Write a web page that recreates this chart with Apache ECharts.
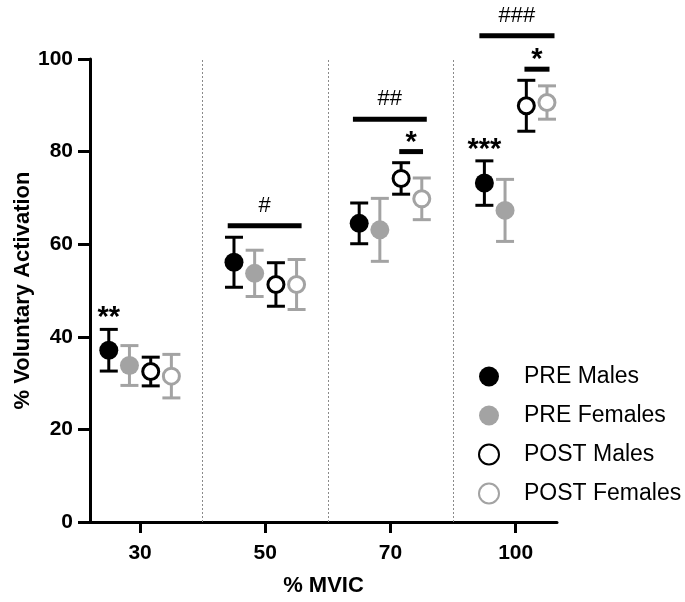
<!DOCTYPE html>
<html>
<head>
<meta charset="utf-8">
<script src="https://cdn.jsdelivr.net/npm/echarts@6/dist/echarts.min.js"></script>
<style>
html,body{margin:0;padding:0;background:#fff;}
#chart{width:685px;height:602px;}
</style>
</head>
<body>
<div id="chart"></div>
<script>
// ---- data ----
const categories = ['30', '50', '70', '100'];
const seriesNames = ['PRE Males', 'PRE Females', 'POST Males', 'POST Females'];
const preMalesMean = [37.1, 56.1, 64.5, 73.2];
const preMalesSD = [4.5, 5.4, 4.4, 4.8];
const preFemalesMean = [33.8, 53.7, 63.1, 67.3];
const preFemalesSD = [4.3, 5.0, 6.8, 6.7];
const postMalesMean = [32.5, 51.3, 74.2, 89.9];
const postMalesSD = [3.1, 4.7, 3.4, 5.5];
const postFemalesMean = [31.5, 51.3, 69.8, 90.6];
const postFemalesSD = [4.7, 5.4, 4.5, 3.6];
const yTicks = [0, 20, 40, 60, 80, 100];
// significance annotations
const starLabels = ['**', '***'];
const starGroups = [0, 3];
const sigLabels = ['#', '##', '*', '###', '*'];
const sigGroups = [1, 2, 2, 3, 3];
const sigFrom = [-0.30, -0.30, 0.07, -0.29, 0.07];
const sigTo = [0.29, 0.29, 0.26, 0.31, 0.27];
const sigBarY = [64.0, 87.0, 80.0, 105.0, 97.8];

// ---- styling ----
const offsets = [-0.25, -0.085, 0.085, 0.25];
const gray = '#a3a3a3';
const colors = ['#000000', gray, '#000000', gray];
const filled = [true, true, false, false];
const means = [preMalesMean, preFemalesMean, postMalesMean, postFemalesMean];
const sds = [preMalesSD, preFemalesSD, postMalesSD, postFemalesSD];
const FONT = '"Liberation Sans", Arial, Helvetica, sans-serif';

const chart = echarts.init(document.getElementById('chart'), null, {renderer: 'canvas'});

function errorRender(color) {
  return function (params, api) {
    const x = api.value(0), m = api.value(1), sd = api.value(2);
    const t = api.coord([x, m + sd]);
    const b = api.coord([x, m - sd]);
    const cw = 9;
    const st = {stroke: color, lineWidth: 3};
    return {type: 'group', children: [
      {type: 'line', shape: {x1: t[0], y1: t[1], x2: b[0], y2: b[1]}, style: st},
      {type: 'line', shape: {x1: t[0] - cw, y1: t[1], x2: t[0] + cw, y2: t[1]}, style: st},
      {type: 'line', shape: {x1: b[0] - cw, y1: b[1], x2: b[0] + cw, y2: b[1]}, style: st}
    ]};
  };
}

const series = [];
// dividers
series.push({
  type: 'scatter', data: [], silent: true,
  markLine: {
    silent: true, symbol: 'none', label: {show: false},
    lineStyle: {type: [2, 2], color: '#8a8a8a', width: 1},
    data: [{xAxis: 0.5}, {xAxis: 1.5}, {xAxis: 2.5}]
  }
});
for (let s = 0; s < 4; s++) {
  const errData = [], ptData = [];
  for (let g = 0; g < categories.length; g++) {
    errData.push([g + offsets[s], means[s][g], sds[s][g]]);
    ptData.push([g + offsets[s], means[s][g]]);
  }
  series.push({
    type: 'custom', renderItem: errorRender(colors[s]), data: errData,
    clip: false, silent: true, z: 2 + s * 2
  });
  series.push({
    name: seriesNames[s], type: 'scatter', data: ptData, symbol: 'circle',
    symbolSize: filled[s] ? 19 : 16, z: 3 + s * 2,
    itemStyle: filled[s] ? {color: colors[s], opacity: 1} :
      {color: '#ffffff', borderColor: colors[s], borderWidth: 3, opacity: 1},
    emphasis: {disabled: true}
  });
}
// significance bars
const sigData = sigLabels.map((l, i) => [sigGroups[i] + sigFrom[i], sigGroups[i] + sigTo[i], sigBarY[i], l]);
series.push({
  type: 'custom', clip: false, silent: true, z: 20,
  data: sigData,
  renderItem: function (params, api) {
    const a = api.coord([api.value(0), api.value(2)]);
    const b = api.coord([api.value(1), api.value(2)]);
    const label = sigLabels[params.dataIndex];
    const isStar = label.indexOf('*') >= 0;
    return {type: 'group', children: [
      {type: 'line', shape: {x1: a[0], y1: a[1], x2: b[0], y2: b[1]}, style: {stroke: '#000', lineWidth: 5}},
      {type: 'text', x: (a[0] + b[0]) / 2, y: a[1] - (isStar ? 9 : 20),
        style: {text: label, fill: '#000', align: 'center', verticalAlign: 'middle',
          font: (isStar ? 'bold 29px ' : '22px ') + FONT}}
    ]};
  }
});
// stars above PRE Males
const starData = starLabels.map((l, i) => [starGroups[i] + offsets[0], preMalesMean[starGroups[i]] + preMalesSD[starGroups[i]], l]);
series.push({
  type: 'custom', clip: false, silent: true, z: 20,
  data: starData,
  renderItem: function (params, api) {
    const p = api.coord([api.value(0), api.value(1)]);
    return {type: 'text', x: p[0], y: p[1] - 11,
      style: {text: starLabels[params.dataIndex], fill: '#000', align: 'center', verticalAlign: 'middle',
        font: 'bold 29px ' + FONT}};
  }
});

const option = {
  backgroundColor: '#ffffff',
  animation: false,
  textStyle: {fontFamily: FONT},
  grid: {left: 90, right: 128, top: 59, bottom: 80, containLabel: false},
  legend: {
    data: seriesNames.map(n => ({name: n, icon: 'circle'})),
    orient: 'vertical', left: 473, top: 360,
    itemWidth: 20, itemHeight: 20, itemGap: 16,
    textStyle: {fontSize: 23, fontFamily: FONT, color: '#000', padding: [0, 0, 0, 20], lineHeight: 22},
    selectedMode: false
  },
  xAxis: {
    type: 'value', min: -0.4, max: 3.33,
    name: '% MVIC', nameLocation: 'middle', nameGap: 53,
    nameTextStyle: {fontSize: 22, fontWeight: 'bold', color: '#000', fontFamily: FONT},
    axisLine: {show: true, onZero: false, lineStyle: {color: '#000', width: 3}},
    axisTick: {show: true, length: 11, lineStyle: {color: '#000', width: 3}, customValues: [0, 1, 2, 3]},
    axisLabel: {fontSize: 21, fontWeight: 'bold', color: '#000', margin: 21, fontFamily: FONT,
      customValues: [0, 1, 2, 3], formatter: v => categories[Math.round(v)]},
    splitLine: {show: false}
  },
  yAxis: {
    type: 'value', min: 0, max: 100, interval: 20,
    name: '% Voluntary Activation', nameLocation: 'middle', nameGap: 56, nameRotate: 90,
    nameMoveOverlap: false,
    nameTextStyle: {fontSize: 22, fontWeight: 'bold', color: '#000', fontFamily: FONT},
    axisLine: {show: true, onZero: false, lineStyle: {color: '#000', width: 3}},
    axisTick: {show: true, length: 12, lineStyle: {color: '#000', width: 3}},
    axisLabel: {fontSize: 21, fontWeight: 'bold', color: '#000', margin: 17, fontFamily: FONT,
      formatter: v => (yTicks.indexOf(v) >= 0 ? String(v) : '')},
    splitLine: {show: false}
  },
  series: series
};
chart.setOption(option);
</script>
</body>
</html>
